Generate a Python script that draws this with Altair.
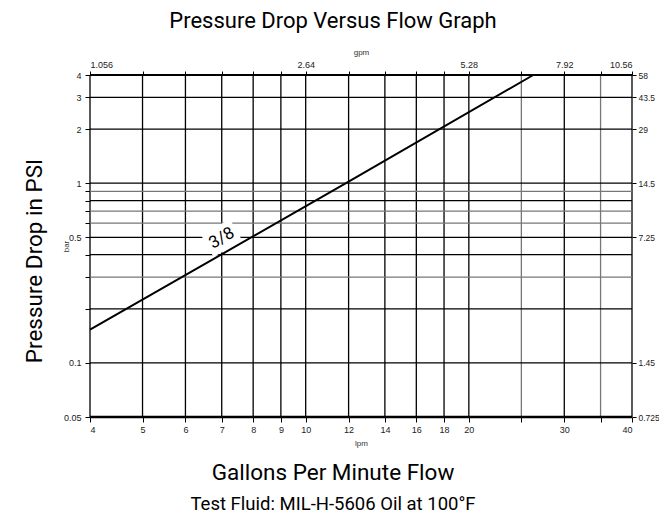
import altair as alt
import pandas as pd

# ---- data ----
lpm_ticks = [4, 5, 6, 7, 8, 9, 10, 12, 14, 16, 18, 20, 25, 30, 35, 40]
lpm_labeled = [4, 5, 6, 7, 8, 9, 10, 12, 14, 16, 18, 20, 30, 40]
lpm_light = [25, 35]
gpm_at_lpm = [4, 10, 20, 30, 40]
gpm_labels = ["1.056", "2.64", "5.28", "7.92", "10.56"]
bar_ticks = [4, 3, 2, 1, 0.9, 0.8, 0.7, 0.6, 0.5, 0.4, 0.3, 0.2, 0.1, 0.05]
bar_labeled = [4, 3, 2, 1, 0.5, 0.1, 0.05]
bar_light = [0.9, 0.7, 0.6, 0.3]
psi_labels = ["58", "43.5", "29", "14.5", "7.25", "1.45", "0.725"]
curve_lpm = [4, 12, 26.3]
curve_bar = [0.153, 1.02, 4.0]
curve_name = ["3/8"]
label_lpm = [7.0]
label_bar = [0.495]

title_text = "Pressure Drop Versus Flow Graph"
x_title = "Gallons Per Minute Flow"
y_title = "Pressure Drop in PSI"
note_text = "Test Fluid: MIL-H-5606 Oil at 100°F"

FONT = "Liberation Sans"
BIG = "Roboto"

xs = alt.Scale(type="log", domain=[min(lpm_ticks), max(lpm_ticks)], nice=False)
ys = alt.Scale(type="log", domain=[min(bar_ticks), max(bar_ticks)], nice=False)


def ternary(keys, labels):
    expr = "''"
    for k, l in reversed(list(zip(keys, labels))):
        expr = f"datum.value == {k} ? '{l}' : ({expr})"
    return expr


def arr(keys):
    return "[" + ",".join(str(k) for k in keys) + "]"


def show_if(keys):
    return f"indexof({arr(keys)}, datum.value) >= 0 ? format(datum.value, '~g') : ''"


axis_common = dict(domain=False, grid=False, tickColor="black", tickWidth=1,
                   labelFont=FONT, labelColor="#222",
                   titleFont=FONT, titleFontSize=8, titleFontWeight="normal",
                   titleColor="#333")

bottom_axis = alt.Axis(orient="bottom", values=lpm_ticks, labelExpr=show_if(lpm_labeled),
                       tickSize=5, labelPadding=3, labelFontSize=9,
                       title="lpm", titleX=271, titleY=26,
                       titleAlign="center", titleBaseline="middle", **axis_common)
top_axis = alt.Axis(orient="top", values=lpm_ticks, labelExpr=ternary(gpm_at_lpm, gpm_labels),
                    tickSize=4, labelPadding=2, labelFontSize=9,
                    title="gpm", titleX=271, titleY=-23,
                    titleAlign="center", titleBaseline="middle", **axis_common)
left_axis = alt.Axis(orient="left", values=bar_ticks, labelExpr=show_if(bar_labeled),
                     tickSize=5, labelPadding=4, labelFontSize=9,
                     title="bar", titleX=-24, titleY=171,
                     titleAngle=270, titleAlign="center", titleBaseline="middle",
                     **axis_common)
right_axis = alt.Axis(orient="right", values=bar_labeled,
                      labelExpr=ternary(bar_labeled, psi_labels),
                      tickSize=4, labelPadding=2, labelFontSize=8.5, title=None,
                      **axis_common)

vdf = pd.DataFrame({"lpm": lpm_ticks})
hdf = pd.DataFrame({"bar": bar_ticks})

light_v = f"indexof({arr(lpm_light)}, datum.lpm) >= 0"
light_h = f"indexof({arr(bar_light)}, datum.bar) >= 0"

vgrid = alt.Chart(vdf).mark_rule(strokeWidth=1.3).encode(
    x=alt.X("lpm:Q", scale=xs, axis=bottom_axis),
    color=alt.condition(light_v, alt.value("#777"), alt.value("black")))
vtop = alt.Chart(vdf).mark_rule(opacity=0).encode(
    x=alt.X("lpm:Q", scale=xs, axis=top_axis))
hgrid = alt.Chart(hdf).mark_rule(strokeWidth=1.3).encode(
    y=alt.Y("bar:Q", scale=ys, axis=left_axis),
    color=alt.condition(light_h, alt.value("#777"), alt.value("black")))
hright = alt.Chart(hdf).mark_rule(opacity=0).encode(
    y=alt.Y("bar:Q", scale=ys, axis=right_axis))
frame_bottom = alt.Chart(pd.DataFrame({"bar": [min(bar_ticks)]})).mark_rule(
    color="black", strokeWidth=2.6).encode(y=alt.Y("bar:Q", scale=ys, axis=None))
frame_top = alt.Chart(pd.DataFrame({"bar": [max(bar_ticks)]})).mark_rule(
    color="black", strokeWidth=1.8).encode(y=alt.Y("bar:Q", scale=ys, axis=None))

ldf = pd.DataFrame({"lpm": label_lpm, "bar": label_bar, "name": curve_name})
label_box = alt.Chart(ldf).mark_point(
    shape="M-1,-0.75L1,-0.75L1,0.75L-1,0.75Z", filled=True, fill="white",
    strokeWidth=0, opacity=1, size=1089, angle=330).encode(
    x=alt.X("lpm:Q", scale=xs, axis=None), y=alt.Y("bar:Q", scale=ys, axis=None))
label_text = alt.Chart(ldf).mark_text(
    angle=330, fontSize=17, font=BIG, color="black", align="center",
    baseline="middle").encode(
    x=alt.X("lpm:Q", scale=xs, axis=None), y=alt.Y("bar:Q", scale=ys, axis=None),
    text="name:N")

cdf = pd.DataFrame({"lpm": curve_lpm, "bar": curve_bar})
curve = alt.Chart(cdf).mark_line(color="black", strokeWidth=2).encode(
    x=alt.X("lpm:Q", scale=xs, axis=None), y=alt.Y("bar:Q", scale=ys, axis=None))


def txt(s, x, y, size, angle=0):
    return alt.Chart(pd.DataFrame({"t": [s]})).mark_text(
        font=BIG, fontSize=size, color="black", align="center", baseline="middle",
        angle=angle).encode(text="t:N", x=alt.value(x), y=alt.value(y))


chart = alt.layer(
    vgrid, vtop, hgrid, hright, frame_bottom, frame_top, label_box, curve, label_text,
    txt(title_text, 243, -54, 22),
    txt(x_title, 243, 398, 22.5),
    txt(note_text, 243, 429, 18.5),
    txt(y_title, -55, 186, 22.5, 270),
).resolve_axis(x="independent", y="independent").properties(
    width=542, height=342,
    autosize=alt.AutoSizeParams(type="none"),
    padding={"left": 82, "top": 67, "right": 27, "bottom": 99},
).configure_view(stroke=None)

chart.save("out.html", embed_options={"renderer": "svg", "actions": False})
